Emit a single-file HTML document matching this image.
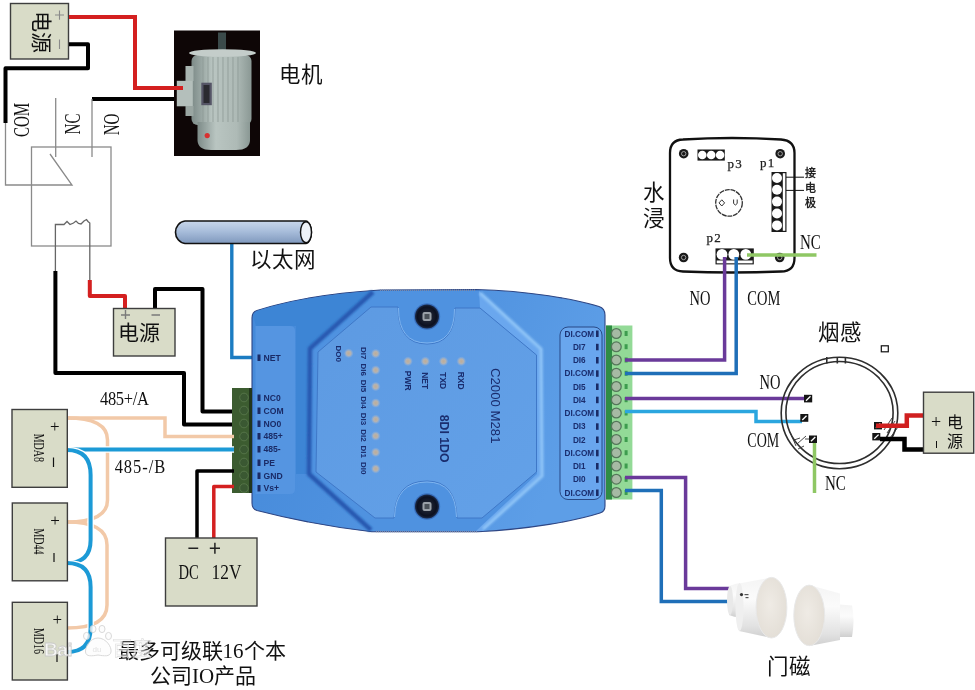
<!DOCTYPE html>
<html lang="zh-CN">
<head>
<meta charset="utf-8">
<style>
html,body{margin:0;padding:0;background:#fff;}
body{width:975px;height:690px;overflow:hidden;position:relative;font-family:"Liberation Serif",serif;}
svg{position:absolute;left:0;top:0;will-change:transform;}
.sf{font-family:"Liberation Serif",serif;}
.ss{font-family:"Liberation Sans",sans-serif;}
</style>
</head>
<body>
<svg width="975" height="690" viewBox="0 0 975 690">
<defs>
  <linearGradient id="tube" x1="0" y1="0" x2="0" y2="1">
    <stop offset="0" stop-color="#c8d6ea"/>
    <stop offset="0.45" stop-color="#a9bedb"/>
    <stop offset="1" stop-color="#7f98bd"/>
  </linearGradient>
  <linearGradient id="motorbody" x1="0" y1="0" x2="1" y2="0">
    <stop offset="0" stop-color="#7d8b88"/>
    <stop offset="0.35" stop-color="#b9c5c1"/>
    <stop offset="0.75" stop-color="#aebab6"/>
    <stop offset="1" stop-color="#8a9894"/>
  </linearGradient>
  <radialGradient id="screw" cx="0.5" cy="0.5" r="0.5">
    <stop offset="0" stop-color="#2a3140"/>
    <stop offset="0.8" stop-color="#0c1020"/>
    <stop offset="1" stop-color="#1b2a48"/>
  </radialGradient>
</defs>

<!-- ========== TOP LEFT POWER BOX ========== -->
<rect x="10.5" y="3.5" width="58" height="55.5" fill="#d9dcc8" stroke="#3e3e3e" stroke-width="1.4"/>
<text class="sf" font-size="21" transform="translate(40.5,32) rotate(90)" text-anchor="middle" dominant-baseline="central" fill="#111">电源</text>
<path d="M55,15 H64 M59.5,10.4 V19.8 M59.5,39.6 V49" stroke="#8a8a8a" stroke-width="1.1"/>

<!-- wires top left -->
<path d="M69,17 H135 V88 H184" fill="none" stroke="#d42020" stroke-width="4"/>
<path d="M69,44.3 H88 V68.3 H5.5 V123" fill="none" stroke="#000" stroke-width="4" stroke-linejoin="round"/>
<path d="M92,99 H176" fill="none" stroke="#000" stroke-width="4" stroke-linejoin="round"/>

<!-- relay -->
<g fill="none" stroke="#8a8a8a" stroke-width="1.3">
  <rect x="31.5" y="147" width="79.5" height="99"/>
  <path d="M5.5,123 V185 H72 L50,154"/>
  <path d="M55.7,98 V157"/>
  <path d="M92,99 V157"/>
  <path d="M55.4,271 V224.5 L64,224.5 L67,221.5 L70,224.5 L73.5,223 L76,221 L78.5,223.5 L81,224 L84,221 L86.5,219.5 L88,221.5 L89.8,223 V280" stroke="#666"/>
</g>
<text class="sf" font-size="15" transform="translate(21.5,120) rotate(-90) scale(1,1.55)" text-anchor="middle" dominant-baseline="central" fill="#111">COM</text>
<text class="sf" font-size="15" transform="translate(72,124) rotate(-90) scale(1,1.55)" text-anchor="middle" dominant-baseline="central" fill="#111">NC</text>
<text class="sf" font-size="15" transform="translate(111,124.5) rotate(-90) scale(1,1.55)" text-anchor="middle" dominant-baseline="central" fill="#111">NO</text>

<!-- ========== MOTOR PHOTO ========== -->
<rect x="174" y="30.5" width="86" height="125.5" fill="#0e0606"/>
<rect x="218" y="32.5" width="8" height="18" fill="#3b4a4a"/>
<rect x="191.5" y="55" width="60" height="70" rx="6" fill="url(#motorbody)"/>
<g stroke="#8d9995" stroke-width="1" opacity="0.8">
  <line x1="203" y1="57" x2="203" y2="123"/><line x1="208" y1="57" x2="208" y2="123"/>
  <line x1="213" y1="57" x2="213" y2="123"/><line x1="218" y1="57" x2="218" y2="123"/>
  <line x1="223" y1="57" x2="223" y2="123"/><line x1="228" y1="57" x2="228" y2="123"/>
  <line x1="233" y1="57" x2="233" y2="123"/><line x1="238" y1="57" x2="238" y2="123"/>
</g>
<ellipse cx="222.5" cy="53" rx="33.5" ry="3.8" fill="#c4cdca"/>
<path d="M197.5,122 H250 V140 Q250,150 236,150 H211 Q197.5,150 197.5,140 Z" fill="url(#motorbody)"/>
<rect x="185.5" y="66" width="8" height="15" fill="#a8b4b0"/>
<rect x="176.8" y="80.8" width="16" height="25.5" fill="#b4bfbb"/>
<rect x="185.5" y="106" width="8" height="10" fill="#9aa6a2"/>
<rect x="201.3" y="82.7" width="10.5" height="22.5" fill="#556"/>
<rect x="203.5" y="85" width="6" height="18" fill="#2a2a30"/>
<circle cx="207.2" cy="135.6" r="2.6" fill="#d83030"/>
<path d="M170,88 H183" stroke="#d42020" stroke-width="4"/>
<text class="sf" font-size="21.5" x="279" y="81.5" fill="#111">电机</text>

<!-- ========== SECOND POWER BOX & WIRES ========== -->
<path d="M55.4,271 V373 H184 V424.5 H234" fill="none" stroke="#000" stroke-width="4" stroke-linejoin="round"/>
<path d="M89.8,280 V296 H125 V309" fill="none" stroke="#d42020" stroke-width="4" stroke-linejoin="round"/>
<path d="M155,309 V289 H202.5 V411.5 H234" fill="none" stroke="#000" stroke-width="4" stroke-linejoin="round"/>
<rect x="113.5" y="308.5" width="61.5" height="47.5" fill="#d9dcc8" stroke="#3e3e3e" stroke-width="1.4"/>
<text class="sf" font-size="21" x="118" y="339.5" fill="#111">电源</text>
<path d="M121,315 H130 M125.5,310 V319 M151.5,315 H160" stroke="#7a7a7a" stroke-width="1.4"/>

<!-- ========== ETHERNET ========== -->
<path d="M231.8,243 V357.5 H256" fill="none" stroke="#1c7cc2" stroke-width="3.4"/>
<path d="M185,221 H306 A6,11.3 0 0 1 306,243.5 H185 A10.5,11.3 0 0 1 185,221 Z" fill="url(#tube)" stroke="#111" stroke-width="1.6"/>
<ellipse cx="306" cy="232.2" rx="5.5" ry="10.5" fill="#eef2f8" stroke="#111" stroke-width="1.4"/>
<text class="sf" font-size="21.5" x="249.5" y="266.8" fill="#111">以太网</text>

<!-- ========== DEVICE ========== -->
<g id="device">
  <defs>
    <linearGradient id="bodyg" x1="0" y1="0" x2="1" y2="0.3">
      <stop offset="0" stop-color="#4489d9"/>
      <stop offset="0.45" stop-color="#4d90de"/>
      <stop offset="1" stop-color="#5d9ee7"/>
    </linearGradient>
    <linearGradient id="faceg" x1="0" y1="0" x2="1" y2="1">
      <stop offset="0" stop-color="#5d9ae2"/>
      <stop offset="1" stop-color="#63a1e8"/>
    </linearGradient>
  </defs>
  <!-- body -->
  <path d="M252,318 Q252,312 257,310.5 C290,300 330,293 380,290 L476,289.5 C530,291 575,299 599,306.5 Q605,308.5 605,315 L605,506 Q605,511.5 600,513 C575,521 530,529 478,531.8 L372,531.8 C330,527 290,519 257,510.5 Q252,509 252,503 Z" fill="url(#bodyg)" stroke="#2e4684" stroke-width="1.1"/>
  <!-- darker top-left region -->
  <path d="M253,316 Q254,311.5 258,310.5 C290,300.5 330,293.5 373,291.5 L309,348 L309,474 L296,474 L296,326 L256,326 Z" fill="#3d85d5"/>
  <!-- side panels -->
  <path d="M255.5,326 H290 Q295,326 295,331 V489 Q295,494 290,494 H255.5 Z" fill="#5595e1"/>
  <rect x="560" y="327" width="42" height="172.5" rx="8" fill="#69a6ee" stroke="#23407a" stroke-width="0.9"/>
  <!-- octagon bevel -->
  <path d="M373,291 L479,291 L542,349 L543,476 L483,531 L371,531 L308,474 L309,348 Z" fill="#4f92e0"/>
  <path d="M479,291 L542,349 L543,476 L483,531 L476,531 L537,474 L536.5,355 L480,308 Z" fill="#6aa7ee"/>
  <!-- dark outer edge left -->
  <filter id="bl1" x="-0.1" y="-0.1" width="1.2" height="1.2"><feGaussianBlur stdDeviation="1.1"/></filter>
  <path d="M373,292 L310,348.5 L309,474 L371,530" fill="none" stroke="#2658b0" stroke-width="4.5" stroke-linejoin="round" filter="url(#bl1)"/>
  <!-- light outer edge right -->
  <path d="M480,293 L541,349 L542,476 L483,529" fill="none" stroke="#8cc2f6" stroke-width="3.5" stroke-linejoin="round" filter="url(#bl1)"/>
  <!-- octagon face -->
  <path d="M371,307 L398,307 Q398,344 427,344 Q455,344 455,308 L480,308 L536.5,355 L536.5,472 L482,518 L457,518 Q456,481 427,481 Q395,481 394,518 L375,518 L316,472 L318,352 Z" fill="url(#faceg)" stroke="#3c74c4" stroke-width="0.9"/>
  <path d="M398.5,308 Q398.5,343 427,343 Q454.5,343 454.5,309" fill="none" stroke="#7fb5f0" stroke-width="1"/>
  <path d="M394.5,517 Q395.5,482 427,482 Q455.5,482 456.5,517" fill="none" stroke="#7fb5f0" stroke-width="1"/>
  <!-- textured top/bottom edges -->
  <path d="M380,290.3 H476" stroke="#7a88a8" stroke-width="1.6" stroke-dasharray="1 1"/>
  <path d="M376,531.5 H478" stroke="#7a88a8" stroke-width="1.6" stroke-dasharray="1 1"/>
  <!-- screws -->
  <circle cx="427" cy="316.5" r="13.2" fill="#2c5aa8" opacity="0.6"/>
  <circle cx="427" cy="316.5" r="12" fill="url(#screw)"/>
  <rect x="422.5" y="312" width="9" height="9" rx="2" fill="#9aa0a8"/>
  <rect x="424.5" y="314" width="5" height="5" fill="#4a5058"/>
  <circle cx="427" cy="506.5" r="13.2" fill="#2c5aa8" opacity="0.6"/>
  <circle cx="427" cy="506.5" r="12" fill="url(#screw)"/>
  <rect x="422.5" y="502" width="9" height="9" rx="2" fill="#9aa0a8"/>
  <rect x="424.5" y="504" width="5" height="5" fill="#4a5058"/>
</g>

<!-- left terminal -->
<rect x="232" y="388" width="19.8" height="105" fill="#3c5c30"/>
<rect x="249" y="388" width="3" height="105" fill="#22361c"/>
<g fill="#3a5832" stroke="#5a7a4c" stroke-width="0.8">
  <circle cx="244" cy="397.5" r="4.3"/><circle cx="244" cy="410.5" r="4.3"/><circle cx="244" cy="423.5" r="4.3"/>
  <circle cx="244" cy="436.5" r="4.3"/><circle cx="244" cy="449.5" r="4.3"/><circle cx="244" cy="462.5" r="4.3"/>
  <circle cx="244" cy="475.5" r="4.3"/><circle cx="244" cy="488" r="4.3"/>
</g>
<!-- left labels -->
<g class="ss" font-size="8.6" font-weight="bold" fill="#1a2b66">
  <text x="263.5" y="360.7">NET</text>
  <text x="263.5" y="401">NC0</text>
  <text x="263.5" y="413.8">COM</text>
  <text x="263.5" y="427">NO0</text>
  <text x="263.5" y="439.3">485+</text>
  <text x="263.5" y="452.3">485-</text>
  <text x="263.5" y="466">PE</text>
  <text x="263.5" y="478.7">GND</text>
  <text x="263.5" y="491.3">Vs+</text>
</g>
<g fill="#1a2b66">
  <rect x="257.5" y="354.5" width="3" height="6.5"/>
  <rect x="257.5" y="394.5" width="3" height="6.5"/><rect x="257.5" y="407.5" width="3" height="6.5"/>
  <rect x="257.5" y="420.5" width="3" height="6.5"/><rect x="257.5" y="433" width="3" height="6.5"/>
  <rect x="257.5" y="446" width="3" height="6.5"/><rect x="257.5" y="459.5" width="3" height="6.5"/>
  <rect x="257.5" y="472.5" width="3" height="6.5"/><rect x="257.5" y="485" width="3" height="6.5"/>
</g>

<!-- right terminal -->
<rect x="606" y="325.5" width="26.4" height="174" fill="#93da97"/>
<rect x="606" y="325.5" width="6" height="174" fill="#2f8c44"/>
<g fill="#a6baa4" stroke="#55775a" stroke-width="1.3">
  <circle cx="616.3" cy="333.5" r="4.9"/>
  <circle cx="616.3" cy="346.8" r="4.9"/>
  <circle cx="616.3" cy="360.0" r="4.9"/>
  <circle cx="616.3" cy="373.2" r="4.9"/>
  <circle cx="616.3" cy="386.5" r="4.9"/>
  <circle cx="616.3" cy="399.8" r="4.9"/>
  <circle cx="616.3" cy="413.0" r="4.9"/>
  <circle cx="616.3" cy="426.2" r="4.9"/>
  <circle cx="616.3" cy="439.5" r="4.9"/>
  <circle cx="616.3" cy="452.8" r="4.9"/>
  <circle cx="616.3" cy="466.0" r="4.9"/>
  <circle cx="616.3" cy="479.2" r="4.9"/>
  <circle cx="616.3" cy="492.5" r="4.9"/>
</g>
<g fill="#3d9c4e">
  <rect x="624.6" y="331.0" width="3" height="5"/>
  <rect x="624.6" y="344.2" width="3" height="5"/>
  <rect x="624.6" y="357.5" width="3" height="5"/>
  <rect x="624.6" y="370.8" width="3" height="5"/>
  <rect x="624.6" y="384.0" width="3" height="5"/>
  <rect x="624.6" y="397.2" width="3" height="5"/>
  <rect x="624.6" y="410.5" width="3" height="5"/>
  <rect x="624.6" y="423.8" width="3" height="5"/>
  <rect x="624.6" y="437.0" width="3" height="5"/>
  <rect x="624.6" y="450.2" width="3" height="5"/>
  <rect x="624.6" y="463.5" width="3" height="5"/>
  <rect x="624.6" y="476.8" width="3" height="5"/>
  <rect x="624.6" y="490.0" width="3" height="5"/>
</g>
<g class="ss" font-size="8.2" font-weight="bold" fill="#1a2d6e" text-anchor="middle">
  <text x="579.3" y="336.5">DI.COM</text>
  <text x="579.3" y="350">DI7</text>
  <text x="579.3" y="363">DI6</text>
  <text x="579.3" y="376.3">DI.COM</text>
  <text x="579.3" y="389.5">DI5</text>
  <text x="579.3" y="402.7">DI4</text>
  <text x="579.3" y="416">DI.COM</text>
  <text x="579.3" y="429.3">DI3</text>
  <text x="579.3" y="442.5">DI2</text>
  <text x="579.3" y="455.8">DI.COM</text>
  <text x="579.3" y="469">DI1</text>
  <text x="579.3" y="482.3">DI0</text>
  <text x="579.3" y="495.5">DI.COM</text>
</g>
<g fill="#1a2b66">
  <rect x="596" y="330.5" width="2.6" height="6.5"/><rect x="596" y="343.8" width="2.6" height="6.5"/>
  <rect x="596" y="357" width="2.6" height="6.5"/><rect x="596" y="370.3" width="2.6" height="6.5"/>
  <rect x="596" y="383.5" width="2.6" height="6.5"/><rect x="596" y="396.7" width="2.6" height="6.5"/>
  <rect x="596" y="410" width="2.6" height="6.5"/><rect x="596" y="423.3" width="2.6" height="6.5"/>
  <rect x="596" y="436.5" width="2.6" height="6.5"/><rect x="596" y="449.8" width="2.6" height="6.5"/>
  <rect x="596" y="463" width="2.6" height="6.5"/><rect x="596" y="476.3" width="2.6" height="6.5"/>
  <rect x="596" y="489.5" width="2.6" height="6.5"/>
</g>

<!-- LEDs -->
<defs><radialGradient id="led" cx="0.5" cy="0.5" r="0.5"><stop offset="0" stop-color="#c0ad96"/><stop offset="0.5" stop-color="#b3b3b3"/><stop offset="1" stop-color="#8fb0dc" stop-opacity="0.2"/></radialGradient></defs>
<g fill="url(#led)">
  <circle cx="408" cy="361.3" r="4.6"/>
  <circle cx="425.3" cy="361.3" r="4.6"/>
  <circle cx="443.5" cy="361.3" r="4.6"/>
  <circle cx="461.3" cy="361.3" r="4.6"/>
  <circle cx="348.7" cy="353.3" r="4.6"/>
  <circle cx="375.7" cy="353.6" r="4.6"/>
  <circle cx="375.7" cy="370.1" r="4.6"/>
  <circle cx="375.7" cy="386.5" r="4.6"/>
  <circle cx="375.7" cy="403.0" r="4.6"/>
  <circle cx="375.7" cy="419.4" r="4.6"/>
  <circle cx="375.7" cy="435.9" r="4.6"/>
  <circle cx="375.7" cy="452.3" r="4.6"/>
  <circle cx="375.7" cy="468.8" r="4.6"/>
</g>
<g class="ss" font-weight="bold" fill="#1a2d6e" text-anchor="middle">
  <text font-size="8.5" transform="translate(404.5,380.7) rotate(90)" dominant-baseline="auto">PWR</text>
  <text font-size="8.5" transform="translate(421.8,380.7) rotate(90)" dominant-baseline="auto">NET</text>
  <text font-size="8.5" transform="translate(440,380.7) rotate(90)" dominant-baseline="auto">TXD</text>
  <text font-size="8.5" transform="translate(457.8,380.7) rotate(90)" dominant-baseline="auto">RXD</text>
  <text font-size="8" transform="translate(336,353.6) rotate(90)">DO0</text>
  <text font-size="8" transform="translate(361.3,353.1) rotate(90)">DI7</text>
  <text font-size="8" transform="translate(361.3,369.6) rotate(90)">DI6</text>
  <text font-size="8" transform="translate(361.3,386.0) rotate(90)">DI5</text>
  <text font-size="8" transform="translate(361.3,402.5) rotate(90)">DI4</text>
  <text font-size="8" transform="translate(361.3,418.9) rotate(90)">DI3</text>
  <text font-size="8" transform="translate(361.3,435.4) rotate(90)">DI2</text>
  <text font-size="8" transform="translate(361.3,451.8) rotate(90)">DI1</text>
  <text font-size="8" transform="translate(361.3,468.2) rotate(90)">DI0</text>
</g>
<text class="ss" font-weight="bold" font-size="12.3" fill="#1a2d6e" transform="translate(440,414.7) rotate(90)">8DI 1DO</text>
<text class="ss" font-size="13.2" fill="#1a2d6e" transform="translate(490.8,368) rotate(90)">C2000 M281</text>

<!-- ========== LEFT BOTTOM: MD chain ========== -->
<path d="M67,418 H165 V436.5 H234" fill="none" stroke="#f2c9a8" stroke-width="3.5"/>
<path d="M67,418 Q107.5,418 107.5,440 V500 Q107.5,522 67,522" fill="none" stroke="#f2c9a8" stroke-width="3.5"/>
<path d="M67,522 Q107,522 107,545 V605 Q107,628 67,628" fill="none" stroke="#f2c9a8" stroke-width="3.5"/>
<path d="M67,449.5 H234" fill="none" stroke="#fff" stroke-width="6.5"/>
<path d="M67,449.5 H234" fill="none" stroke="#1c9ad6" stroke-width="4"/>
<path d="M67,450 Q90.6,450 90.6,475 V540 Q90.6,563 67,563" fill="none" stroke="#fff" stroke-width="6.5"/>
<path d="M67,450 Q90.6,450 90.6,475 V540 Q90.6,563 67,563" fill="none" stroke="#1c9ad6" stroke-width="4"/>
<path d="M67,563 Q90.6,563 90.6,587 V628 Q90.6,652 67,652" fill="none" stroke="#fff" stroke-width="6.5"/>
<path d="M67,563 Q90.6,563 90.6,587 V628 Q90.6,652 67,652" fill="none" stroke="#1c9ad6" stroke-width="4"/>

<rect x="12" y="409.5" width="55.3" height="77.8" fill="#d9dcc8" stroke="#3e3e3e" stroke-width="1.4"/>
<rect x="12.3" y="503" width="55.1" height="77.8" fill="#d9dcc8" stroke="#3e3e3e" stroke-width="1.4"/>
<rect x="12.3" y="602.3" width="55.1" height="77.7" fill="#d9dcc8" stroke="#3e3e3e" stroke-width="1.4"/>
<g class="sf" fill="#111" font-size="10">
  <text transform="translate(39,447.8) rotate(90) scale(1,1.5)" text-anchor="middle" dominant-baseline="central">MDA8</text>
  <text transform="translate(39,541.5) rotate(90) scale(1,1.5)" text-anchor="middle" dominant-baseline="central">MD44</text>
  <text transform="translate(39,641) rotate(90) scale(1,1.5)" text-anchor="middle" dominant-baseline="central">MD16</text>
</g>
<g class="sf" fill="#111" font-size="17" text-anchor="middle">
  <text x="54.7" y="432">+</text>
  <text x="55" y="526">+</text>
  <text x="57.3" y="624.5">+</text>
</g>
<g stroke="#111" stroke-width="1.2">
  <line x1="53.5" y1="457.5" x2="53.5" y2="467"/>
  <line x1="54" y1="553" x2="54" y2="562"/>
  <line x1="57" y1="654" x2="57" y2="662"/>
</g>
<text class="sf" font-size="16.5" transform="translate(100,404.6) scale(1,1.1)" fill="#111" textLength="49" lengthAdjust="spacing">485+/A</text>
<text class="sf" font-size="16.5" transform="translate(114.7,472.6) scale(1,1.1)" fill="#111" textLength="50.5" lengthAdjust="spacing">485-/B</text>

<!-- GND / Vs+ wires and DC 12V -->
<path d="M234,471 H197 V538" fill="none" stroke="#000" stroke-width="3.5" stroke-linejoin="round"/>
<path d="M234,486.5 H213.8 V538" fill="none" stroke="#d42020" stroke-width="3.5" stroke-linejoin="round"/>
<rect x="165.5" y="538" width="91.5" height="68" fill="#d9dcc8" stroke="#3e3e3e" stroke-width="1.4"/>
<path d="M188.4,548.2 H198.2 M209.8,548.2 H220 M214.9,542.7 V553.8" stroke="#222" stroke-width="1.5"/>
<text class="sf" font-size="14.6" transform="translate(178.5,578.7) scale(1,1.5)" fill="#111" textLength="20.3" lengthAdjust="spacing">DC</text>
<text class="sf" font-size="14.6" transform="translate(211.6,578.7) scale(1.19,1.5)" fill="#111">12V</text>

<!-- bottom texts -->
<text class="sf" font-size="21" x="117.5" y="658" fill="#111">最多可级联16个本</text>
<text class="sf" font-size="21" x="150" y="682.5" fill="#111">公司IO产品</text>

<!-- ========== WATER SENSOR ========== -->
<path d="M683,139.5 Q732,136.5 781,139.5 Q794.5,140.5 794.5,153 V258 Q794.5,271.5 781,271.5 Q732,273.5 683,271.5 Q670,271 670,258 V153 Q670,140 683,139.5 Z" fill="#fff" stroke="#111" stroke-width="2.3"/>
<g fill="#1a1a1a">
  <circle cx="683.7" cy="153.7" r="4.8"/><circle cx="780.2" cy="153.7" r="4.8"/>
  <circle cx="683.6" cy="257.5" r="4.8"/><circle cx="779.7" cy="257.5" r="4.8"/>
</g>
<g fill="none" stroke="#bbb" stroke-width="0.8">
  <circle cx="683.7" cy="153.7" r="2.2"/><circle cx="780.2" cy="153.7" r="2.2"/>
  <circle cx="683.6" cy="257.5" r="2.2"/><circle cx="779.7" cy="257.5" r="2.2"/>
</g>
<circle cx="729" cy="202.9" r="13.3" fill="none" stroke="#333" stroke-width="1.3" stroke-dasharray="5 0.8"/>
<path d="M721.8,199.8 L724.6,202.9 L721.8,206 L719,202.9 Z" fill="none" stroke="#333" stroke-width="1"/>
<path d="M733.6,199.5 V203.5 Q735.4,206.5 737.2,203.5 V199.5" fill="none" stroke="#333" stroke-width="1"/>
<!-- P3 -->
<rect x="697.5" y="149.5" width="27.3" height="11.1" fill="#1a1a1a"/>
<g fill="#fff"><circle cx="702.3" cy="155" r="4.3"/><circle cx="711.2" cy="155" r="4.3"/><circle cx="720.1" cy="155" r="4.3"/></g>
<!-- P1 -->
<rect x="771.5" y="172" width="15" height="60" fill="#1a1a1a"/>
<rect x="782.8" y="173.2" width="2.5" height="57.6" fill="#fff"/>
<g fill="#fff"><circle cx="777" cy="178" r="5"/><circle cx="777" cy="189.8" r="5"/><circle cx="777" cy="201.6" r="5"/><circle cx="777" cy="213.5" r="5"/><circle cx="777" cy="225.4" r="5"/></g>
<!-- P2 -->
<rect x="715.5" y="248.4" width="38.3" height="16" fill="#1a1a1a"/>
<rect x="716.7" y="260.5" width="35.9" height="2.8" fill="#fff"/>
<g fill="#fff"><circle cx="722" cy="254.4" r="5.4"/><circle cx="733.8" cy="254.4" r="5.4"/><circle cx="745.8" cy="254.4" r="5.4"/></g>
<g font-family="'Liberation Serif',serif" font-size="13" fill="#222" letter-spacing="1.2" stroke="#222" stroke-width="0.25">
  <text x="727.5" y="167.5">p3</text>
  <text x="760" y="167">p1</text>
  <text x="706.5" y="242">p2</text>
</g>
<g class="ss" font-size="11" font-weight="bold" fill="#222">
  <text x="805" y="177">接</text>
  <text x="805" y="192">电</text>
  <text x="805" y="206.5">极</text>
</g>
<line x1="786" y1="177.2" x2="804" y2="177.2" stroke="#111" stroke-width="1"/>
<line x1="786" y1="190.4" x2="804" y2="190.4" stroke="#111" stroke-width="1"/>
<g class="ss" font-size="21.5" fill="#111">
  <text x="643" y="199.8">水</text>
  <text x="643" y="225.5">浸</text>
</g>
<path d="M747,255 H816.5" stroke="#8fc764" stroke-width="3.5"/>
<text class="sf" font-size="15" transform="translate(800,248.5) scale(1,1.35)" fill="#111">NC</text>
<text class="sf" font-size="14.5" transform="translate(689.5,304.5) scale(1,1.45)" fill="#111">NO</text>
<text class="sf" font-size="14.5" transform="translate(747.3,304.5) scale(1,1.45)" fill="#111">COM</text>

<!-- right wires -->
<path d="M625,360 H724.6 V257" fill="none" stroke="#6a3a9a" stroke-width="3.5"/>
<path d="M625,373.5 H736.2 V257" fill="none" stroke="#1f6fb8" stroke-width="3.5"/>
<path d="M625,398.5 H805" fill="none" stroke="#6a3a9a" stroke-width="3.5"/>
<path d="M625,411.5 H756 V421.5 H802" fill="none" stroke="#2ba6df" stroke-width="3.5"/>
<path d="M625,477.5 H685.6 V588.5 H731" fill="none" stroke="#6a3a9a" stroke-width="3.5"/>
<path d="M625,490.5 H661.3 V601.5 H728" fill="none" stroke="#1f6fb8" stroke-width="3.5"/>

<!-- ========== SMOKE SENSOR ========== -->
<g fill="none" stroke="#2e2e2e" stroke-width="1.6">
  <ellipse cx="839.5" cy="413" rx="58.3" ry="55.7"/>
  <ellipse cx="839.5" cy="412.5" rx="53.6" ry="51"/>
  <line x1="826.8" y1="357" x2="826.8" y2="363.5"/><line x1="837.3" y1="357" x2="837.3" y2="363.5"/><line x1="845.4" y1="357" x2="845.4" y2="363.5"/>
</g>
<rect x="881.3" y="345.8" width="7" height="6" fill="#fff" stroke="#111" stroke-width="1.2"/>
<g fill="#151515">
  <rect x="804" y="394.8" width="8.2" height="7.6"/>
  <rect x="800.3" y="414" width="8" height="7.8"/>
  <rect x="809" y="435.5" width="8" height="7.5"/>
  <rect x="874" y="422" width="8" height="7.4"/>
  <rect x="872.3" y="433" width="8" height="7.4"/>
</g>
<g stroke="#fff" stroke-width="1.3">
  <line x1="806" y1="400.8" x2="810.5" y2="396.3"/>
  <line x1="802.3" y1="420" x2="806.5" y2="415.7"/>
  <line x1="811" y1="441.3" x2="815.3" y2="437"/>
  <line x1="876" y1="427.8" x2="880.3" y2="423.5"/>
  <line x1="874.3" y1="438.8" x2="878.6" y2="434.6"/>
</g>
<g stroke="#333" stroke-width="0.9" fill="none">
  <path d="M797,444 L806,436 M809,439 H805"/>
  <path d="M790,432 L796,446 M794,440 L800,438 M798,449 L804,446"/>
  <path d="M884,430 L892,418 M887,433 L895,421 M882,440 H896 M890,438 L898,427"/>
</g>
<path d="M814.5,443 V493" stroke="#8fc764" stroke-width="3.5"/>
<path d="M876,425.8 H906.8 V415.4 H924" fill="none" stroke="#d02020" stroke-width="4.5"/>
<path d="M880,439 H904.5 V449.5 H924" fill="none" stroke="#000" stroke-width="4.5"/>
<text class="ss" font-size="21.5" x="818" y="340" fill="#111">烟感</text>
<text class="sf" font-size="14.5" transform="translate(759.6,388.5) scale(1,1.4)" fill="#111">NO</text>
<text class="sf" font-size="14" transform="translate(747.3,447.3) scale(1,1.55)" fill="#111">COM</text>
<text class="sf" font-size="15" transform="translate(825,490.4) scale(1,1.42)" fill="#111">NC</text>
<rect x="923.5" y="392.2" width="50.2" height="61" fill="#d9dcc8" stroke="#3e3e3e" stroke-width="1.4"/>
<text class="sf" font-size="18" x="936" y="427.5" text-anchor="middle" fill="#111">+</text>
<line x1="936.5" y1="441" x2="936.5" y2="448" stroke="#111" stroke-width="1"/>
<text class="sf" font-size="16" x="946.5" y="427.8" fill="#111">电</text>
<text class="sf" font-size="16" x="946.5" y="447" fill="#111">源</text>

<!-- ========== DOOR MAGNET ========== -->
<defs>
  <linearGradient id="cylA" x1="0" y1="0" x2="0" y2="1">
    <stop offset="0" stop-color="#f4f4f4"/>
    <stop offset="0.35" stop-color="#fbfbfb"/>
    <stop offset="0.8" stop-color="#e2e2e2"/>
    <stop offset="1" stop-color="#cfcfcf"/>
  </linearGradient>
  <radialGradient id="faceA" cx="0.45" cy="0.45" r="0.6">
    <stop offset="0" stop-color="#efebe5"/>
    <stop offset="1" stop-color="#e3ded6"/>
  </radialGradient>
</defs>
<g>
  <path d="M729,586 Q736,583 743,583 V617 Q736,618 729,615 Z" fill="url(#cylA)"/>
  <ellipse cx="730" cy="600.5" rx="3" ry="14.5" fill="#e9e9e9"/>
  <path d="M739,583.5 L771.5,577.5 L771.5,638 L739,631 Z" fill="url(#cylA)"/>
  <ellipse cx="739.5" cy="607" rx="4" ry="24" fill="#efefef"/>
  <ellipse cx="771.5" cy="607.7" rx="15.4" ry="30.3" fill="url(#faceA)" stroke="#e8e8e8" stroke-width="1"/>
  <circle cx="741.5" cy="594.6" r="1.6" fill="#333"/>
  <rect x="744.5" y="594" width="4" height="1.2" fill="#555"/>
  <rect x="745.5" y="597" width="3" height="1.2" fill="#555"/>

  <path d="M840,604.5 L852,605.5 Q855,620 852,637 L840,637 Z" fill="url(#cylA)"/>
  <path d="M809,585 L840,593.5 L840,640 L809,646 Z" fill="url(#cylA)"/>
  <ellipse cx="809.2" cy="615.4" rx="15.4" ry="30.3" fill="url(#faceA)" stroke="#e8e8e8" stroke-width="1"/>
</g>
<text class="ss" font-size="21.5" x="766.5" y="674" fill="#111">门磁</text>
<!-- watermark -->
<g opacity="0.9">
  <text class="ss" font-size="19" font-weight="bold" x="44" y="655.5" fill="#fafafa" stroke="#c8c8c8" stroke-width="0.8" letter-spacing="-0.5">Bai</text>
  <g fill="#fbfbfb" fill-opacity="0.85" stroke="#d0d0d0" stroke-width="0.9">
    <path d="M98,638 C106,638 112,647 111,652 C110,657 104,656 98,655 C92,656 86,657 85.5,652 C85,647 90,638 98,638 Z"/>
    <ellipse cx="86.5" cy="636" rx="3" ry="3.6"/><ellipse cx="93" cy="629" rx="3" ry="3.6"/>
    <ellipse cx="102" cy="629" rx="3" ry="3.6"/><ellipse cx="108.5" cy="636" rx="3" ry="3.6"/>
  </g>
  <text class="ss" font-size="8" x="92.5" y="652" fill="#e0e0e0">du</text>
  <text class="ss" font-size="20" x="112" y="656" fill="#ffffff" fill-opacity="0.55" stroke="#d8d8d8" stroke-width="0.6">百度</text>
</g>
</svg>
</body>
</html>
